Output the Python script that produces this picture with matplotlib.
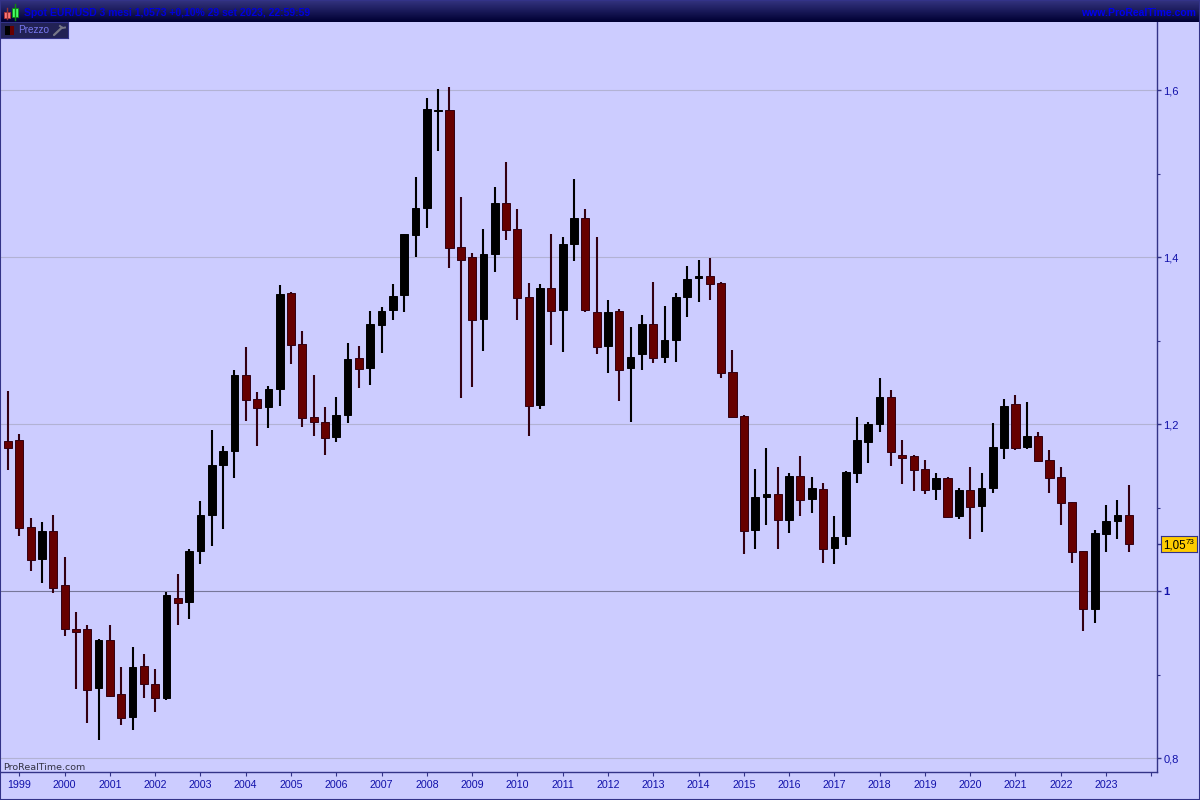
import numpy as np
import matplotlib
matplotlib.use("Agg")
import matplotlib.pyplot as plt
from matplotlib.patches import Rectangle

# quarterly EUR/USD candles (Q4 1998 -> Q3 2023)
opens = [1.1803, 1.1811, 1.0773, 1.0389, 1.0725, 1.0078, 0.9551, 0.9551, 0.8848, 0.9419,
         0.8773, 0.8501, 0.9108, 0.8892, 0.8728, 0.9922, 0.9878, 1.0485, 1.0916, 1.1515,
         1.1683, 1.2593, 1.2306, 1.2210, 1.2425, 1.3575, 1.2964, 1.2090, 1.2030, 1.1850,
         1.2114, 1.2797, 1.2677, 1.3192, 1.3371, 1.3551, 1.4270, 1.4593, 1.5758, 1.5767,
         1.4126, 1.4006, 1.3264, 1.4042, 1.4653, 1.4341, 1.3527, 1.2234, 1.3635, 1.3371,
         1.4162, 1.4473, 1.3347, 1.2940, 1.3359, 1.2677, 1.2844, 1.3204, 1.2809, 1.3012,
         1.3527, 1.3755, 1.3779, 1.3695, 1.2629, 1.2102, 1.0737, 1.1132, 1.1168, 1.0856,
         1.1383, 1.1108, 1.1228, 1.0521, 1.0665, 1.1419, 1.1791, 1.2006, 1.2330, 1.1635,
         1.1623, 1.1467, 1.1228, 1.1359, 1.0904, 1.1216, 1.1024, 1.1240, 1.1719, 1.2246,
         1.1731, 1.1863, 1.1575, 1.1371, 1.1072, 1.0485, 0.9791, 1.0689, 1.0844, 1.0916]
closes = [1.1722, 1.0764, 1.0377, 1.0725, 1.0046, 0.9555, 0.9519, 0.8824, 0.9419, 0.8749,
          0.8489, 0.9096, 0.8896, 0.8728, 0.9958, 0.9866, 1.0485, 1.0916, 1.1515, 1.1683,
          1.2593, 1.2294, 1.2198, 1.2425, 1.3563, 1.2952, 1.2078, 1.2030, 1.1839, 1.2114,
          1.2785, 1.2665, 1.3204, 1.3359, 1.3539, 1.4282, 1.4593, 1.5779, 1.5767, 1.4114,
          1.3970, 1.3252, 1.4042, 1.4653, 1.4330, 1.3515, 1.2222, 1.3635, 1.3359, 1.4162,
          1.4473, 1.3371, 1.2928, 1.3347, 1.2653, 1.2809, 1.3204, 1.2797, 1.3012, 1.3527,
          1.3743, 1.3779, 1.3683, 1.2617, 1.2090, 1.0725, 1.1132, 1.1168, 1.0856, 1.1383,
          1.1096, 1.1240, 1.0509, 1.0653, 1.1431, 1.1815, 1.2006, 1.2330, 1.1671, 1.1599,
          1.1455, 1.1216, 1.1359, 1.0892, 1.1216, 1.1012, 1.1240, 1.1731, 1.2222, 1.1719,
          1.1863, 1.1563, 1.1359, 1.1060, 1.0473, 0.9791, 1.0701, 1.0844, 1.0916, 1.0573]
highs = [1.2401, 1.1886, 1.0880, 1.0833, 1.0916, 1.0413, 0.9755, 0.9599, 0.9431, 0.9599,
         0.9096, 0.9336, 0.9252, 0.9072, 0.9994, 1.0210, 1.0509, 1.1084, 1.1934, 1.1743,
         1.2653, 1.2928, 1.2389, 1.2461, 1.3671, 1.3587, 1.3120, 1.2593, 1.2210, 1.2330,
         1.2976, 1.2940, 1.3359, 1.3407, 1.3683, 1.4282, 1.4964, 1.5910, 1.6018, 1.6042,
         1.4725, 1.4054, 1.4341, 1.4844, 1.5144, 1.4581, 1.3695, 1.3683, 1.4282, 1.4246,
         1.4940, 1.4581, 1.4246, 1.3491, 1.3383, 1.3168, 1.3312, 1.3707, 1.3419, 1.3575,
         1.3898, 1.3970, 1.3994, 1.3707, 1.2892, 1.2114, 1.1467, 1.1719, 1.1491, 1.1419,
         1.1623, 1.1371, 1.1300, 1.0904, 1.1443, 1.2090, 1.2030, 1.2557, 1.2413, 1.1815,
         1.1635, 1.1575, 1.1419, 1.1371, 1.1240, 1.1491, 1.1419, 1.2018, 1.2306, 1.2353,
         1.2270, 1.1910, 1.1695, 1.1491, 1.1072, 1.0485, 1.0737, 1.1036, 1.1096, 1.1276]
lows = [1.1455, 1.0668, 1.0249, 1.0106, 0.9986, 0.9471, 0.8833, 0.8429, 0.8222, 0.8740,
        0.8401, 0.8342, 0.8728, 0.8561, 0.8704, 0.9599, 0.9671, 1.0330, 1.0545, 1.0749,
        1.1359, 1.2042, 1.1743, 1.1958, 1.2222, 1.2725, 1.1970, 1.1862, 1.1635, 1.1791,
        1.2018, 1.2437, 1.2473, 1.2856, 1.3252, 1.3347, 1.4006, 1.4353, 1.5276, 1.3874,
        1.2318, 1.2449, 1.2880, 1.3827, 1.4210, 1.3252, 1.1862, 1.2186, 1.2952, 1.2868,
        1.3958, 1.3347, 1.2844, 1.2617, 1.2282, 1.2030, 1.2653, 1.2737, 1.2737, 1.2749,
        1.3288, 1.3467, 1.3491, 1.2557, 1.2090, 1.0449, 1.0509, 1.0797, 1.0509, 1.0701,
        1.0904, 1.0940, 1.0342, 1.0330, 1.0557, 1.1300, 1.1539, 1.1910, 1.1503, 1.1288,
        1.1204, 1.1168, 1.1096, 1.0880, 1.0869, 1.0629, 1.0713, 1.1180, 1.1587, 1.1695,
        1.1707, 1.1551, 1.1180, 1.0797, 1.0342, 0.9527, 0.9623, 1.0473, 1.0629, 1.0473]

years = ["1999", "2000", "2001", "2002", "2003", "2004", "2005", "2006", "2007", "2008",
         "2009", "2010", "2011", "2012", "2013", "2014", "2015", "2016", "2017", "2018",
         "2019", "2020", "2021", "2022", "2023", ""]
price_ticks = [0.8, 1.0, 1.2, 1.4, 1.6]
price_labels = ["0,8", "1", "1,2", "1,4", "1,6"]
minor_ticks = [0.9, 1.1, 1.3, 1.5]
last_price = "1,0573"

W, H = 1200, 800
BG = "#ccccff"
FRAME = "#333388"
TXT = "#1111aa"
RED = "#660000"
RED_EDGE = "#330011"


def px_axes(fig, x0, y0, x1, y1, **kw):
    # axes from pixel box, y measured from the top
    return fig.add_axes([x0 / W, 1 - y1 / H, (x1 - x0) / W, (y1 - y0) / H], **kw)


fig = plt.figure(figsize=(12, 8), dpi=100, facecolor=BG)
plt.rcParams["font.family"] = ["Liberation Sans", "DejaVu Sans"]

ax = px_axes(fig, 1, 22, 1157, 772, facecolor=BG)
ax.set_xlim(-7 / 11.32, 1149 / 11.32)
ax.set_ylim(0.7838, 1.6820)

x = np.arange(len(opens))
o, c, h, l = map(np.array, (opens, closes, highs, lows))
up = c >= o

# grid lines
for p in price_ticks:
    ax.axhline(p, color="#777799" if p == 1.0 else "#b2b2d4", lw=0.8, zorder=1)

# wicks and bodies
ax.vlines(x[up], l[up], h[up], color="black", lw=1.5, zorder=2)
ax.vlines(x[~up], l[~up], h[~up], color=RED_EDGE, lw=1.5, zorder=2)
ax.bar(x[up], (c - o)[up], bottom=o[up], width=0.68, color="black", edgecolor="black",
       lw=0.7, zorder=3)
ax.bar(x[~up], (o - c)[~up], bottom=c[~up], width=0.72, color=RED, edgecolor=RED_EDGE,
       lw=0.7, zorder=3)

# axes
for side in ["top", "left"]:
    ax.spines[side].set_visible(False)
for side in ["right", "bottom"]:
    ax.spines[side].set_color(FRAME)
    ax.spines[side].set_linewidth(1.0)
ax.yaxis.tick_right()
ax.set_yticks(price_ticks + [float(last_price.replace(",", "."))])
ax.set_yticklabels(price_labels + [""], fontsize=8, color=TXT)
ax.get_yticklabels()[1].set_fontweight("bold")
ax.set_yticks(minor_ticks, minor=True)
ax.tick_params(axis="y", which="major", length=3, width=1, color=FRAME, pad=1.5)
ax.tick_params(axis="y", which="minor", length=2, width=0.8, color=FRAME)
ax.set_xticks(np.arange(len(years)) * 4 + 1)
ax.set_xticklabels(years, fontsize=7.7, color=TXT)
ax.tick_params(axis="x", length=3, width=0.8, color=FRAME, pad=2.5)

ax.text(2 / 1156, 5 / 750, "ProRealTime.com", transform=ax.transAxes, fontsize=6.8,
        family="DejaVu Sans", color="#333344", va="center", ha="left", zorder=5)

# top bar with gradient
bar = px_axes(fig, 0, 0, W, 22)
top = np.array([51, 51, 127]) / 255
bot = np.array([0, 0, 51]) / 255
t = np.linspace(0, 1, 22)[:, None, None]
bar.imshow(top * (1 - t) + bot * t, aspect="auto", extent=[0, W, 22, 0])
bar.set_xlim(0, W)
bar.set_ylim(22, 0)
bar.axis("off")
bar.text(24, 12.5, "Spot EUR/USD 3 mesi 1,0573 +0,10% 29 set 2023, 22:59:59", color="#0000dd",
         fontsize=7.5, fontweight="bold", va="center", ha="left")
bar.text(1196, 12.5, "www.ProRealTime.com", color="#0000ee", fontsize=7.5, fontweight="bold",
         va="center", ha="right")
bar.plot([7, 7], [8, 19], color="#993333", lw=1)
bar.add_patch(Rectangle((3.5, 11.5), 6, 6, fc="#ff7777", ec="#aa3333", lw=0.6))
bar.plot([14.5, 14.5], [4, 20], color="#118811", lw=1)
bar.add_patch(Rectangle((11.5, 7.5), 6, 9, fc="#44ff66", ec="#118811", lw=0.6))

# "Prezzo" tag
tag = px_axes(fig, 0, 22, 68, 38, facecolor="#222255")
tag.set_xlim(0, 68)
tag.set_ylim(16, 0)
tag.set_xticks([])
tag.set_yticks([])
for s in tag.spines.values():
    s.set_color(FRAME)
tag.add_patch(Rectangle((5, 4), 5, 9, fc="black", ec="none"))
tag.add_patch(Rectangle((10, 4), 4, 9, fc=RED, ec="none"))
tag.text(18.5, 8.3, "Prezzo", color="#7777ee", fontsize=7.2, va="center", ha="left")
tag.plot([54, 62], [13, 5.5], color="#777788", lw=1.6, solid_capstyle="round")
tag.plot([60, 62.5, 65], [4, 6, 5.5], color="#777788", lw=1.4)

# last price box
box = px_axes(fig, 1161, 536, 1197, 552, facecolor="#ffcc00")
box.set_xlim(0, 36)
box.set_ylim(16, 0)
box.set_xticks([])
box.set_yticks([])
for s in box.spines.values():
    s.set_color(FRAME)
box.text(2, 9, last_price[:4], fontsize=8.3, color="black", va="center", ha="left")
box.text(25, 6, last_price[4:], fontsize=5.8, color="black", va="center", ha="left")

# outer frame
fig.add_artist(Rectangle((0, 0), 1, 1, transform=fig.transFigure, fc="none", ec=FRAME, lw=1.5))

fig.savefig("out.png", dpi=100, facecolor=BG)
